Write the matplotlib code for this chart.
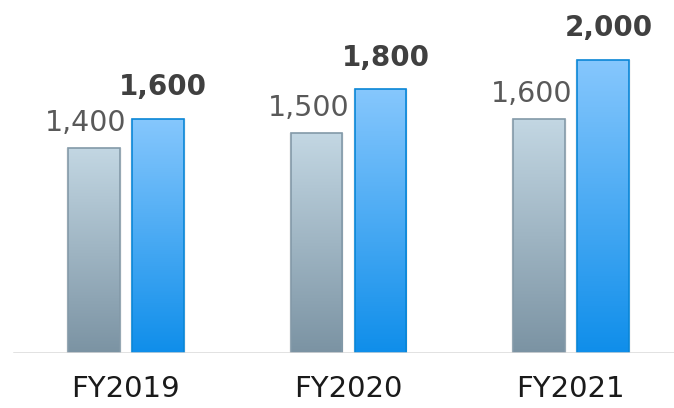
import numpy as np
import matplotlib
matplotlib.use("Agg")
import matplotlib.pyplot as plt
from matplotlib.colors import LinearSegmentedColormap

# donnees
annees = ["FY2019", "FY2020", "FY2021"]
valeurs_grises = [1400, 1500, 1600]
valeurs_bleues = [1600, 1800, 2000]

fig = plt.figure(figsize=(6.74, 4.08), dpi=100)
ax = fig.add_axes([0, 55 / 408, 1, 353 / 408])
ax.set_xlim(-0.564, 2.465)
ax.set_ylim(0, 2410)

cmap_gris = LinearSegmentedColormap.from_list("gris", ["#7b93a3", "#c3d7e3"])
cmap_bleu = LinearSegmentedColormap.from_list("bleu", ["#0f8eea", "#86c7fd"])

x = np.arange(len(annees))
largeur = 0.232
gradient = np.linspace(0, 1, 256).reshape(-1, 1)


def barres_degradees(pos, vals, cmap, bord):
    barres = ax.bar(pos, vals, largeur, color="none", edgecolor=bord,
                    linewidth=1.2, zorder=3)
    for b in barres:
        x0, y0 = b.get_x(), b.get_y()
        w, h = b.get_width(), b.get_height()
        im = ax.imshow(gradient, cmap=cmap, origin="lower", aspect="auto",
                       extent=(x0, x0 + w, y0, y0 + h), zorder=2)
        im.set_clip_path(b)
        # ombre legere
        ax.bar(x0 + w / 2, h, w * 1.08, color="#000000", alpha=0.04,
               zorder=1, linewidth=0)
    return barres


barres_degradees(x - 0.142, valeurs_grises, cmap_gris, "#8399a8")
barres_degradees(x + 0.146, valeurs_bleues, cmap_bleu, "#0a86d6")

# etiquettes
for i in range(len(annees)):
    ax.text(x[i] - 0.177, valeurs_grises[i] + 75, f"{valeurs_grises[i]:,}",
            ha="center", va="bottom", fontsize=20.5, color="#595959")
    ax.text(x[i] + 0.17, valeurs_bleues[i] + 120, f"{valeurs_bleues[i]:,}",
            ha="center", va="bottom", fontsize=20, color="#404040",
            fontweight="bold")

ax.axhline(0, xmin=14 / 674, xmax=1, color="#d9d9d9", linewidth=1.8, zorder=4)

ax.set_xticks(x)
ax.set_xticklabels(annees, fontsize=21, color="#1a1a1a")
ax.tick_params(axis="x", length=0, pad=16)
ax.set_yticks([])
for s in ax.spines.values():
    s.set_visible(False)
ax.patch.set_alpha(0)

fig.savefig("out.png", dpi=100)
